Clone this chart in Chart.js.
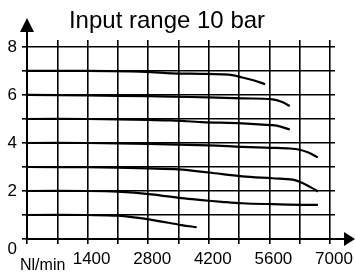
<!DOCTYPE html>
<html>
<head>
<meta charset="utf-8">
<script src="https://cdn.jsdelivr.net/npm/chart.js@4"></script>
<style>
  html, body { margin: 0; padding: 0; background: #fff; }
  #wrap { width: 355px; height: 273px; }
</style>
</head>
<body>
<div id="wrap"><canvas id="chart"></canvas></div>
<script>
// --- Datos (Nl/min vs bar) ---
const flowAt7 = [0, 1400, 2400, 2870, 3340, 4040, 4500, 4740, 4970, 5250, 5500];
const barAt7 = [7, 7, 6.98, 6.95, 6.9, 6.88, 6.86, 6.83, 6.73, 6.6, 6.45];

const flowAt6 = [0, 1400, 2800, 3340, 4200, 4970, 5670, 5880, 6070];
const barAt6 = [6, 5.98, 5.95, 5.93, 5.9, 5.86, 5.82, 5.72, 5.54];

const flowAt5 = [0, 1400, 2800, 3340, 4040, 4970, 5670, 5880, 6070];
const barAt5 = [5, 5, 4.96, 4.94, 4.87, 4.82, 4.74, 4.67, 4.56];

const flowAt4 = [0, 1400, 2800, 4200, 4970, 5670, 6070, 6300, 6500, 6720];
const barAt4 = [4, 4, 3.96, 3.9, 3.84, 3.8, 3.77, 3.72, 3.6, 3.4];

const flowAt3 = [0, 1400, 2800, 3500, 4200, 4970, 5670, 6140, 6400, 6560, 6720];
const barAt3 = [3, 2.99, 2.94, 2.9, 2.77, 2.61, 2.53, 2.47, 2.3, 2.15, 1.98];

const flowAt2 = [0, 1400, 2100, 2870, 3570, 4040, 4500, 4970, 5670, 6370, 6720];
const barAt2 = [2, 2, 1.97, 1.86, 1.7, 1.62, 1.55, 1.49, 1.45, 1.42, 1.42];

const flowAt1 = [0, 1400, 2100, 2870, 3570, 3920];
const barAt1 = [1, 1, 0.97, 0.8, 0.58, 0.49];

const flowTicks = [0, 700, 1400, 2100, 2800, 3500, 4200, 4900, 5600, 6300, 7000];
const barTicks = [0, 1, 2, 3, 4, 5, 6, 7, 8];

const TITLE = 'Input range 10 bar';
const UNIT = 'Nl/min';

const NUM_FONT = "'Liberation Sans Narrow', 'Liberation Sans', Arial, sans-serif";
const TXT_FONT = "'Liberation Sans', Arial, sans-serif";

const toPoints = (xs, ys) => xs.map((x, i) => ({ x: x, y: ys[i] }));

const curves = [
    [flowAt7, barAt7], [flowAt6, barAt6], [flowAt5, barAt5], [flowAt4, barAt4],
    [flowAt3, barAt3], [flowAt2, barAt2], [flowAt1, barAt1]
];

// Flechas de los ejes y textos sueltos
const decorPlugin = {
    id: 'decor',
    afterDraw(chart) {
        const ctx = chart.ctx;
        const area = chart.chartArea;
        const x0 = chart.scales.x.getPixelForValue(0);
        const y0 = chart.scales.y.getPixelForValue(0);
        ctx.save();
        ctx.strokeStyle = '#000';
        ctx.fillStyle = '#000';
        ctx.lineWidth = 2;
        // eje Y hacia arriba
        ctx.beginPath();
        ctx.moveTo(x0, area.top);
        ctx.lineTo(x0, 31);
        ctx.stroke();
        ctx.beginPath();
        ctx.moveTo(x0, 18);
        ctx.lineTo(x0 - 7, 32);
        ctx.lineTo(x0 + 7, 32);
        ctx.closePath();
        ctx.fill();
        // eje X hacia la derecha
        ctx.beginPath();
        ctx.moveTo(area.right, y0);
        ctx.lineTo(346, y0);
        ctx.stroke();
        ctx.beginPath();
        ctx.moveTo(355, y0);
        ctx.lineTo(344, y0 - 7);
        ctx.lineTo(344, y0 + 7);
        ctx.closePath();
        ctx.fill();
        // textos
        ctx.textBaseline = 'alphabetic';
        ctx.font = '24px ' + TXT_FONT;
        ctx.textAlign = 'center';
        ctx.fillText(TITLE, 167, 28);
        ctx.font = '16px ' + TXT_FONT;
        ctx.textAlign = 'left';
        ctx.fillText(UNIT, 20, 270);
        ctx.restore();
    }
};

new Chart(document.getElementById('chart'), {
    type: 'line',
    data: {
        datasets: curves.map(([xs, ys]) => ({
            data: toPoints(xs, ys),
            borderColor: '#000',
            borderWidth: 2.2,
            pointRadius: 0,
            fill: false,
            tension: 0.35
        }))
    },
    options: {
        responsive: true,
        maintainAspectRatio: false,
        animation: false,
        layout: { padding: { top: 40, right: 20, left: 0, bottom: 0 } },
        plugins: { legend: { display: false }, tooltip: { enabled: false }, title: { display: false } },
        scales: {
            x: {
                type: 'linear',
                min: 0,
                max: 7115,
                afterBuildTicks: s => { s.ticks = flowTicks.map(v => ({ value: v })); },
                afterFit: s => { s.height = 34; },
                grid: { color: '#000', lineWidth: 1.6, tickLength: 5, tickColor: '#000' },
                border: { display: true, color: '#000', width: 2 },
                ticks: {
                    autoSkip: false,
                    maxRotation: 0,
                    padding: 5,
                    labelOffset: 4,
                    color: '#000',
                    font: { family: NUM_FONT, size: 17 },
                    callback: v => (v > 0 && v % 1400 === 0) ? String(v) : ''
                }
            },
            y: {
                type: 'linear',
                min: 0,
                max: 8.29,
                afterBuildTicks: s => { s.ticks = barTicks.map(v => ({ value: v })); },
                afterFit: s => { s.width = 27; },
                grid: { color: '#000', lineWidth: 1.6, tickLength: 5, tickColor: '#000' },
                border: { display: true, color: '#000', width: 2 },
                ticks: {
                    autoSkip: false,
                    padding: 5,
                    color: '#000',
                    font: { family: NUM_FONT, size: 17 },
                    callback: v => v === 0 ? ['', '0'] : (v % 2 === 0 ? String(v) : '')
                }
            }
        }
    },
    plugins: [decorPlugin]
});
</script>
</body>
</html>
